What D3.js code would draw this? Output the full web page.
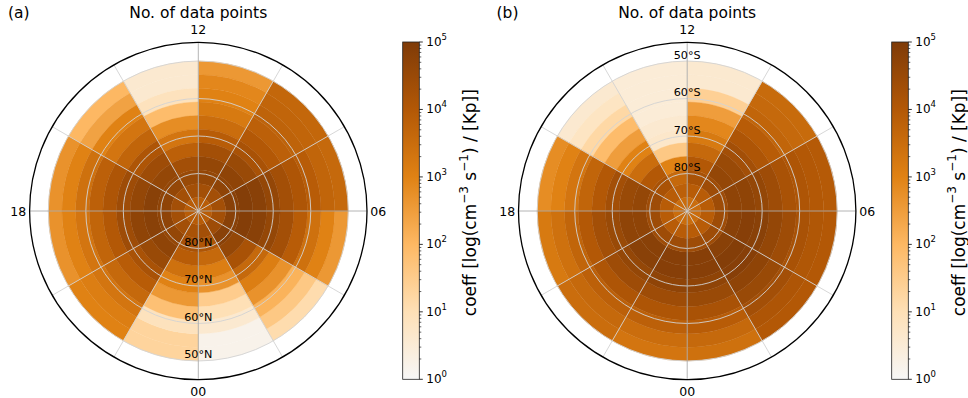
<!DOCTYPE html>
<html>
<head>
<meta charset="utf-8">
<script src="https://cdn.jsdelivr.net/npm/d3@7"></script>
<style>
  html, body { margin: 0; padding: 0; background: #ffffff; }
  svg { display: block; font-family: "DejaVu Sans", sans-serif; }
</style>
</head>
<body>
<svg id="chart" width="968" height="398"></svg>
<script>
// Magnetic local time sector edges (hours) and latitude bin edges (degrees)
const mltEdges = [0, 2, 4, 6, 8, 10, 12, 14, 16, 18, 20, 22, 24];
const latEdges = [50, 53.64, 57.27, 60.91, 64.55, 68.18, 71.82, 75.45, 79.09, 82.73, 86.36, 90];

// log10(number of data points); one row per MLT sector (00-02 ... 22-24),
// each row runs from the 50° bin inward to the pole bin
const logCountNorth = [
  [0.2, 0.2, 0.6, 1.0, 1.5, 2.7, 3.1, 3.6, 4.1, 4.3, 3.9],
  [1.1, 1.6, 2.1, 2.7, 3.1, 3.6, 4.2, 4.6, 4.8, 4.4, 3.9],
  [2.6, 3.0, 3.4, 3.9, 4.3, 4.6, 4.8, 4.9, 4.8, 4.3, 3.9],
  [3.6, 3.7, 3.9, 4.1, 4.3, 4.6, 4.8, 4.9, 4.8, 4.3, 3.9],
  [3.65, 3.7, 3.75, 3.8, 4.0, 4.2, 4.5, 4.7, 4.7, 4.3, 3.9],
  [2.6, 2.9, 3.0, 3.2, 3.5, 3.9, 4.3, 4.6, 4.6, 4.3, 3.9],
  [0.6, 0.6, 0.9, 1.9, 2.8, 3.3, 3.8, 4.3, 4.5, 4.3, 3.9],
  [2.0, 2.4, 3.0, 3.3, 3.7, 4.1, 4.4, 4.6, 4.6, 4.3, 3.9],
  [2.7, 3.0, 3.4, 3.8, 4.1, 4.4, 4.6, 4.8, 4.7, 4.3, 3.9],
  [2.7, 3.0, 3.3, 3.7, 4.0, 4.4, 4.7, 4.8, 4.7, 4.3, 3.9],
  [3.0, 3.1, 3.3, 3.6, 3.9, 4.2, 4.5, 4.7, 4.6, 4.3, 3.9],
  [1.3, 1.3, 0.9, 1.8, 2.6, 3.0, 3.4, 3.9, 4.2, 4.2, 3.9]
];

const logCountSouth = [
  [3.4, 3.6, 3.9, 4.2, 4.5, 4.7, 4.85, 4.85, 4.4, 3.9, 3.5],
  [4.0, 4.1, 4.3, 4.5, 4.7, 4.85, 4.9, 4.8, 4.4, 3.9, 3.5],
  [4.0, 4.05, 4.2, 4.4, 4.6, 4.8, 4.85, 4.8, 4.4, 3.9, 3.5],
  [3.95, 4.0, 4.1, 4.2, 4.4, 4.6, 4.7, 4.7, 4.4, 3.9, 3.5],
  [3.55, 3.6, 3.7, 3.9, 4.1, 4.3, 4.5, 4.6, 4.4, 3.9, 3.5],
  [0.6, 0.6, 1.4, 2.5, 2.9, 3.2, 3.6, 4.0, 4.2, 3.9, 3.5],
  [0.5, 0.5, 0.5, 0.5, 0.6, 0.7, 1.6, 3.0, 3.6, 3.8, 3.5],
  [0.6, 0.8, 1.2, 1.9, 2.5, 3.0, 3.5, 4.0, 4.2, 3.9, 3.5],
  [2.8, 3.0, 3.3, 3.7, 4.0, 4.3, 4.5, 4.6, 4.4, 3.9, 3.5],
  [3.2, 3.4, 3.7, 4.0, 4.3, 4.5, 4.7, 4.7, 4.4, 3.9, 3.5],
  [3.5, 3.6, 3.8, 4.1, 4.4, 4.6, 4.8, 4.8, 4.4, 3.9, 3.5],
  [3.3, 3.5, 3.8, 4.1, 4.4, 4.7, 4.85, 4.85, 4.4, 3.9, 3.5]
];

// Axis labels
const mltTicks = [0, 6, 12, 18];
const mltTickLabels = ["00", "06", "12", "18"];
const latTicks = [50, 60, 70, 80];
const cbarTicks = [1, 10, 100, 1000, 10000, 100000];
const cbarTickExp = ["0", "1", "2", "3", "4", "5"];

const panels = [
  { tag: "(a)", tagX: 8, cx: 198.3, data: logCountNorth, hemi: "N", labelMlt: 0,  cbx: 402.7, cblabelX: 470 },
  { tag: "(b)", tagX: 496.5, cx: 687.2, data: logCountSouth, hemi: "S", labelMlt: 12, cbx: 891.7, cblabelX: 958.5 }
];

const cy = 211;
const rOuter = 168.7;

// Brown half of the PuOr ramp, indexed by log10(count)
const cmapStops = ["#f7f7f7", "#fee0b6", "#fdb863", "#e08214", "#b35806", "#7f3b08"];
const color = d3.scaleLinear().domain([0, 1, 2, 3, 4, 5]).range(cmapStops).interpolate(d3.interpolateRgb).clamp(true);

// Polar scales: MLT -> angle (d3.arc convention, 0 = up, clockwise), latitude -> radius
const angle = d3.scaleLinear().domain([0, 24]).range([Math.PI, -Math.PI]);
const radius = d3.scaleLinear().domain([90, 45]).range([0, rOuter]);

const svg = d3.select("#chart");

const defs = svg.append("defs");
const grad = defs.append("linearGradient").attr("id", "cmapGrad")
  .attr("x1", 0).attr("y1", 1).attr("x2", 0).attr("y2", 0);
grad.selectAll("stop").data(cmapStops).join("stop")
  .attr("offset", (d, i) => i / (cmapStops.length - 1))
  .attr("stop-color", d => d);

panels.forEach(p => {
  const g = svg.append("g").attr("transform", `translate(${p.cx},${cy})`);

  // Cells
  const cells = [];
  p.data.forEach((row, si) => {
    row.forEach((v, bi) => {
      cells.push({ m0: mltEdges[si], m1: mltEdges[si + 1], lat0: latEdges[bi], lat1: latEdges[bi + 1], v });
    });
  });
  const arc = d3.arc()
    .innerRadius(d => radius(d.lat1))
    .outerRadius(d => radius(d.lat0))
    .startAngle(d => angle(d.m1))
    .endAngle(d => angle(d.m0));
  g.append("g").selectAll("path").data(cells).join("path")
    .attr("d", arc)
    .attr("fill", d => color(d.v))
    .attr("stroke", d => color(d.v))
    .attr("stroke-width", 0.4);

  // Latitude grid circles
  g.append("g").selectAll("circle").data(latTicks).join("circle")
    .attr("r", d => radius(d))
    .attr("fill", "none")
    .attr("stroke", "#d3d3d3")
    .attr("stroke-width", 0.9);

  // MLT grid spokes every 2 h
  const spokes = d3.range(0, 24, 2);
  g.append("g").selectAll("line").data(spokes).join("line")
    .attr("x1", 0).attr("y1", 0)
    .attr("x2", d => rOuter * Math.sin(angle(d)))
    .attr("y2", d => -rOuter * Math.cos(angle(d)))
    .attr("stroke", d => (d % 6 === 0 ? "#ababab" : "#d3d3d3"))
    .attr("stroke-width", 0.9);

  // Outer frame
  g.append("circle").attr("r", rOuter)
    .attr("fill", "none").attr("stroke", "#000").attr("stroke-width", 1.3);

  // MLT tick labels
  g.append("g").selectAll("text").data(mltTicks).join("text")
    .attr("x", d => 180 * Math.sin(angle(d)))
    .attr("y", d => -180 * Math.cos(angle(d)) + (d === 12 ? -1.5 : 0))
    .attr("text-anchor", "middle")
    .attr("dominant-baseline", "central")
    .attr("font-size", "12.5px")
    .attr("fill", "#000")
    .text((d, i) => mltTickLabels[i]);

  // Latitude labels along the chosen meridian
  const la = angle(p.labelMlt);
  g.append("g").selectAll("text").data(latTicks).join("text")
    .attr("x", d => radius(d) * Math.sin(la))
    .attr("y", d => -radius(d) * Math.cos(la) - 6)
    .attr("text-anchor", "middle")
    .attr("dominant-baseline", "central")
    .attr("font-size", "11.2px")
    .attr("fill", "#000")
    .text(d => `${d}°${p.hemi}`);

  // Title and panel tag
  svg.append("text").attr("x", p.cx).attr("y", 17.5)
    .attr("text-anchor", "middle").attr("font-size", "15.5px")
    .text("No. of data points");
  svg.append("text").attr("x", p.tagX).attr("y", 17.5)
    .attr("font-size", "15.5px")
    .text(p.tag);

  // Colorbar
  const cbTop = 42, cbBottom = 379.3, cbW = 16.6;
  const cscale = d3.scaleLog().domain([1, 1e5]).range([cbBottom, cbTop]);
  const cb = svg.append("g");
  cb.append("rect").attr("x", p.cbx).attr("y", cbTop)
    .attr("width", cbW).attr("height", cbBottom - cbTop)
    .attr("fill", "url(#cmapGrad)");
  cb.append("rect").attr("x", p.cbx).attr("y", cbTop)
    .attr("width", cbW).attr("height", cbBottom - cbTop)
    .attr("fill", "none").attr("stroke", "#222").attr("stroke-width", 0.8);

  const minor = [];
  for (let e = 0; e < 5; e++) for (let k = 2; k <= 9; k++) minor.push(k * Math.pow(10, e));
  cb.append("g").selectAll("line").data(minor).join("line")
    .attr("x1", p.cbx + cbW).attr("x2", p.cbx + cbW + 2)
    .attr("y1", d => cscale(d)).attr("y2", d => cscale(d))
    .attr("stroke", "#000").attr("stroke-width", 0.6);
  cb.append("g").selectAll("line").data(cbarTicks).join("line")
    .attr("x1", p.cbx + cbW).attr("x2", p.cbx + cbW + 3.5)
    .attr("y1", d => cscale(d)).attr("y2", d => cscale(d))
    .attr("stroke", "#000").attr("stroke-width", 0.8);
  const tl = cb.append("g").selectAll("text").data(cbarTicks).join("text")
    .attr("x", p.cbx + cbW + 7)
    .attr("y", d => cscale(d))
    .attr("dominant-baseline", "central")
    .attr("font-size", "12px");
  tl.append("tspan").text("10");
  tl.append("tspan").attr("dy", -5).attr("font-size", "8.5px").text((d, i) => cbarTickExp[i]);

  // Colorbar label, reading upward
  const lab = svg.append("text")
    .attr("transform", `translate(${p.cblabelX},${(cbTop + cbBottom) / 2 - 8}) rotate(-90)`)
    .attr("text-anchor", "middle")
    .attr("dominant-baseline", "central")
    .attr("font-size", "17px");
  lab.append("tspan").text("coeff [log(cm");
  lab.append("tspan").attr("dy", -6.5).attr("font-size", "12px").text("\u22123");
  lab.append("tspan").attr("dy", 6.5).text(" s");
  lab.append("tspan").attr("dy", -6.5).attr("font-size", "12px").text("\u22121");
  lab.append("tspan").attr("dy", 6.5).text(") / [Kp]]");
});
</script>
</body>
</html>
